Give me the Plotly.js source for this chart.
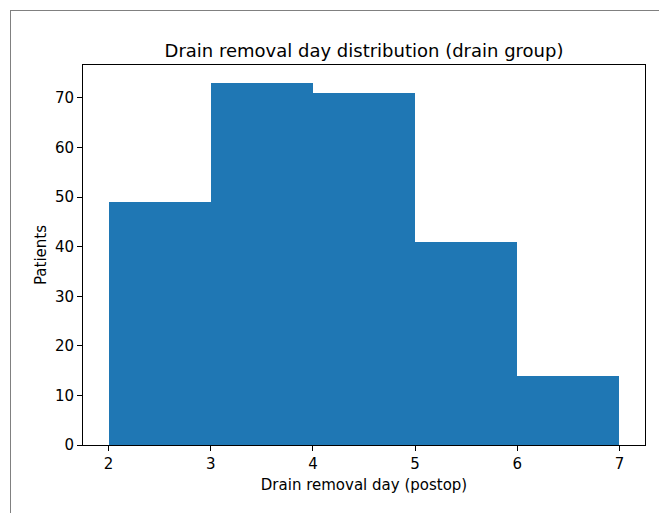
<!DOCTYPE html>
<html>
<head>
<meta charset="utf-8">
<script src="https://cdn.plot.ly/plotly-3.0.1.min.js"></script>
<style>
html, body { margin: 0; padding: 0; background: #fff; }
#frame { position: absolute; left: 10px; top: 10px; width: 648px; height: 520px; border-left: 1px solid #808080; border-top: 1px solid #808080; pointer-events: none; z-index: 5; }
#chart { position: absolute; left: 0; top: 0; width: 659px; height: 513px; }
</style>
</head>
<body>
<div id="chart"></div>
<div id="frame"></div>
<script>
// Histogram bins (drain removal day, postop) and counts
const binStarts = [2, 3, 4, 5, 6];
const binEnds = [3, 4, 5, 6, 7];
const patients = [49, 73, 71, 41, 14];
const xTicks = [2, 3, 4, 5, 6, 7];
const yTicks = [0, 10, 20, 30, 40, 50, 60, 70];

const centers = binStarts.map((s, i) => (s + binEnds[i]) / 2);
const widths = binStarts.map((s, i) => binEnds[i] - s);

const font = 'DejaVu Sans, sans-serif';

const trace = {
  type: 'bar',
  x: centers,
  y: patients,
  width: widths,
  marker: { color: '#1f77b4', line: { width: 0 } },
  hoverinfo: 'x+y'
};

const layout = {
  width: 659,
  height: 513,
  margin: { l: 83, r: 14, t: 65, b: 68 },
  paper_bgcolor: '#ffffff',
  plot_bgcolor: '#ffffff',
  showlegend: false,
  bargap: 0,
  font: { family: font, size: 15, color: '#000' },
  title: {
    text: 'Drain removal day distribution (drain group)',
    font: { family: font, size: 18, color: '#000' },
    x: 0.5, xref: 'paper', xanchor: 'center',
    y: 1 - 51 / 513, yref: 'container', yanchor: 'middle'
  },
  xaxis: {
    range: [1.75, 7.25],
    tickvals: xTicks,
    ticktext: xTicks.map(String),
    ticks: 'outside', ticklen: 5, tickwidth: 1, tickcolor: '#000',
    showline: true, mirror: true, linecolor: '#000', linewidth: 1,
    showgrid: false, zeroline: false,
    tickfont: { family: font, size: 15, color: '#000' },
    title: { text: 'Drain removal day (postop)', font: { family: font, size: 15, color: '#000' }, standoff: 7 },
    automargin: false
  },
  yaxis: {
    range: [0, 76.65],
    tickvals: yTicks,
    ticktext: yTicks.map(String),
    ticks: 'outside', ticklen: 5, tickwidth: 1, tickcolor: '#000',
    showline: true, mirror: true, linecolor: '#000', linewidth: 1,
    showgrid: false, zeroline: false,
    tickfont: { family: font, size: 15, color: '#000' },
    title: { text: 'Patients', font: { family: font, size: 15, color: '#000' }, standoff: 4 },
    automargin: false
  }
};

Plotly.newPlot('chart', [trace], layout, { displayModeBar: false, staticPlot: true });
</script>
</body>
</html>
